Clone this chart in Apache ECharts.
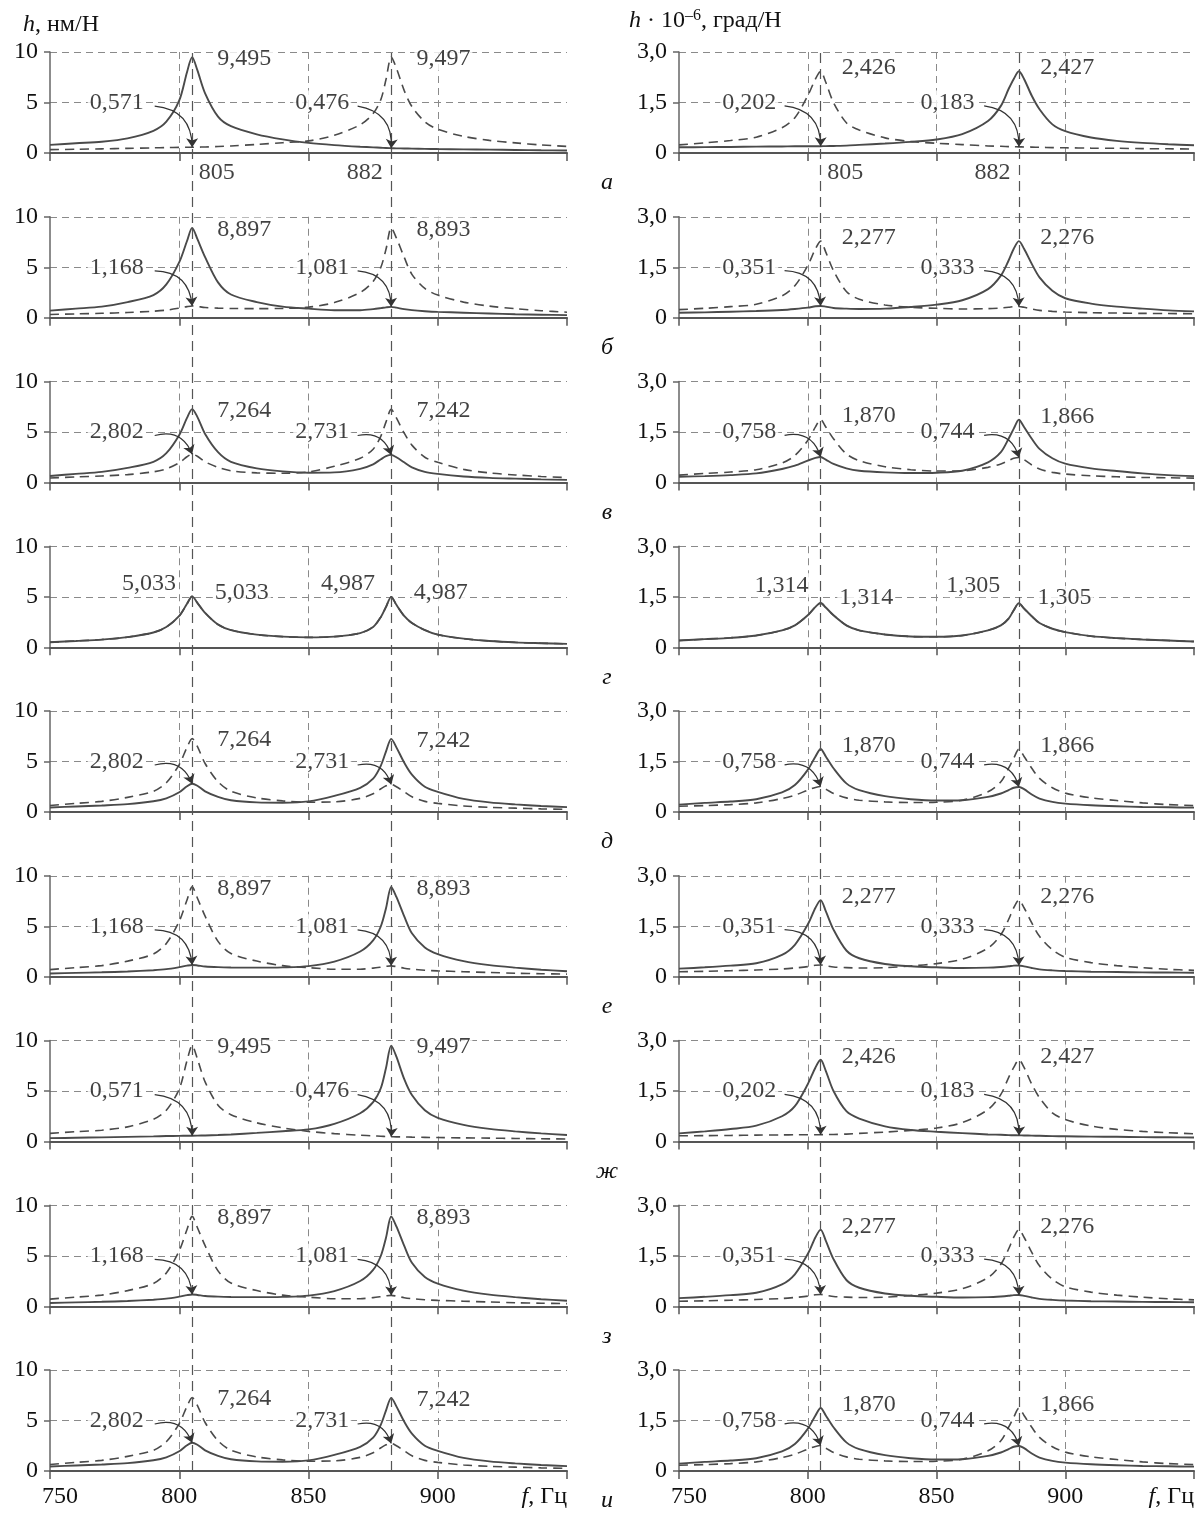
<!DOCTYPE html>
<html>
<head>
<meta charset="utf-8">
<script src="https://cdn.jsdelivr.net/npm/echarts@6/dist/echarts.min.js"></script>
<style>
  html, body { margin: 0; padding: 0; background: #fff; }
  #chart { width: 1203px; height: 1521px; }
</style>
</head>
<body>
<div id="chart"></div>
<script>
// frequencies, Hz
const freqs = [750, 760, 770, 780, 790, 795, 800, 803, 805, 807, 810, 815, 820, 830, 840, 850,
  860, 870, 875, 878, 880, 882, 884, 887, 890, 895, 900, 910, 920, 930, 940, 950];
const modeFreqs = [805, 882];

// h, nm/N  (left column)
const curveA1 = [0.80, 0.97, 1.12, 1.45, 2.2, 3.1, 5.2, 8.0, 9.495, 8.2, 5.9, 3.6, 2.65, 1.85, 1.35, 1.0,
  0.78, 0.62, 0.56, 0.52, 0.49, 0.476, 0.46, 0.45, 0.43, 0.41, 0.39, 0.36, 0.33, 0.30, 0.27, 0.25];
const curveA2 = [0.33, 0.37, 0.41, 0.46, 0.51, 0.54, 0.56, 0.57, 0.571, 0.58, 0.60, 0.64, 0.70, 0.85, 1.02, 1.2,
  1.75, 2.8, 3.9, 5.3, 7.3, 9.497, 8.4, 6.2, 4.6, 3.1, 2.35, 1.65, 1.25, 1.0, 0.8, 0.65];
const curveB1 = [0.71, 0.9, 1.1, 1.55, 2.25, 3.3, 5.5, 7.6, 8.897, 7.8, 6.0, 3.5, 2.3, 1.55, 1.1, 0.9,
  0.75, 0.75, 0.85, 0.95, 1.03, 1.081, 1.0, 0.85, 0.75, 0.65, 0.58, 0.5, 0.42, 0.35, 0.3, 0.26];
const curveB2 = [0.32, 0.38, 0.44, 0.52, 0.65, 0.75, 0.95, 1.1, 1.168, 1.12, 1.02, 0.95, 0.92, 0.9, 0.93, 1.05,
  1.5, 2.5, 3.6, 5.0, 6.8, 8.893, 7.9, 6.0, 4.3, 2.9, 2.25, 1.55, 1.15, 0.9, 0.7, 0.55];
const curveC1 = [0.65, 0.85, 1.05, 1.45, 2.05, 2.9, 4.7, 6.4, 7.264, 6.5, 4.8, 3.0, 2.05, 1.4, 1.1, 0.97,
  1.0, 1.35, 1.8, 2.3, 2.6, 2.731, 2.5, 2.0, 1.5, 1.05, 0.85, 0.6, 0.46, 0.38, 0.31, 0.26];
const curveC2 = [0.45, 0.55, 0.65, 0.78, 1.06, 1.35, 1.95, 2.55, 2.802, 2.6, 2.05, 1.5, 1.16, 0.95, 0.92, 1.05,
  1.6, 2.4, 3.3, 4.6, 6.0, 7.242, 6.4, 4.9, 3.7, 2.5, 2.0, 1.3, 0.95, 0.75, 0.6, 0.48];
const curveD = [0.49, 0.62, 0.76, 1.0, 1.46, 2.0, 3.1, 4.3, 5.033, 4.4, 3.4, 2.25, 1.7, 1.25, 1.05, 0.98,
  1.05, 1.4, 2.0, 3.0, 4.0, 4.987, 4.2, 3.1, 2.4, 1.7, 1.25, 0.85, 0.62, 0.48, 0.4, 0.33];

// h*10^-6, deg/N  (right column)
const curveRA1 = [0.24, 0.3, 0.37, 0.47, 0.75, 1.05, 1.7, 2.2, 2.426, 2.1, 1.5, 0.9, 0.68, 0.45, 0.34, 0.29,
  0.25, 0.21, 0.2, 0.19, 0.185, 0.183, 0.18, 0.175, 0.17, 0.16, 0.155, 0.145, 0.14, 0.13, 0.125, 0.12];
const curveRA2 = [0.17, 0.175, 0.18, 0.19, 0.195, 0.2, 0.2, 0.2, 0.202, 0.205, 0.21, 0.22, 0.24, 0.28, 0.33, 0.4,
  0.56, 0.95, 1.4, 1.9, 2.2, 2.427, 2.2, 1.7, 1.3, 0.85, 0.65, 0.46, 0.36, 0.3, 0.26, 0.23];
const curveRB1 = [0.24, 0.28, 0.33, 0.4, 0.65, 0.95, 1.55, 2.05, 2.277, 1.95, 1.4, 0.78, 0.55, 0.38, 0.31, 0.28,
  0.26, 0.27, 0.29, 0.31, 0.33, 0.333, 0.31, 0.26, 0.22, 0.19, 0.17, 0.15, 0.14, 0.13, 0.125, 0.12];
const curveRB2 = [0.15, 0.16, 0.18, 0.2, 0.23, 0.26, 0.3, 0.34, 0.351, 0.33, 0.29, 0.27, 0.26, 0.27, 0.32, 0.39,
  0.52, 0.85, 1.25, 1.7, 2.05, 2.276, 2.05, 1.6, 1.2, 0.8, 0.58, 0.42, 0.33, 0.27, 0.22, 0.19];
const curveRC1 = [0.22, 0.27, 0.31, 0.38, 0.58, 0.8, 1.25, 1.65, 1.87, 1.65, 1.3, 0.85, 0.65, 0.47, 0.38, 0.34,
  0.35, 0.45, 0.55, 0.65, 0.72, 0.744, 0.68, 0.52, 0.4, 0.3, 0.25, 0.2, 0.17, 0.15, 0.14, 0.13];
const curveRC2 = [0.17, 0.19, 0.22, 0.27, 0.4, 0.5, 0.65, 0.73, 0.758, 0.68, 0.55, 0.42, 0.35, 0.3, 0.28, 0.29,
  0.35, 0.6, 0.9, 1.3, 1.6, 1.866, 1.65, 1.3, 1.0, 0.72, 0.56, 0.42, 0.34, 0.27, 0.22, 0.19];
const curveRD = [0.2, 0.24, 0.28, 0.35, 0.5, 0.65, 0.95, 1.2, 1.314, 1.18, 0.95, 0.65, 0.5, 0.38, 0.32, 0.31,
  0.35, 0.5, 0.65, 0.85, 1.1, 1.305, 1.15, 0.92, 0.72, 0.55, 0.45, 0.33, 0.27, 0.23, 0.2, 0.17];

const rowLetters = ['а', 'б', 'в', 'г', 'д', 'е', 'ж', 'з', 'и'];
const leftSolid = [curveA1, curveB1, curveC1, curveD, curveC2, curveB2, curveA2, curveB2, curveC2];
const leftDashed = [curveA2, curveB2, curveC2, curveD, curveC1, curveB1, curveA1, curveB1, curveC1];
const rightSolid = [curveRA2, curveRB2, curveRC2, curveRD, curveRC1, curveRB1, curveRA1, curveRB1, curveRC1];
const rightDashed = [curveRA1, curveRB1, curveRC1, curveRD, curveRC2, curveRB2, curveRA2, curveRB2, curveRC2];

// annotated values
const leftPeak805 = [9.495, 8.897, 7.264, 5.033, 7.264, 8.897, 9.495, 8.897, 7.264];
const leftPeak882 = [9.497, 8.893, 7.242, 4.987, 7.242, 8.893, 9.497, 8.893, 7.242];
const leftLow805 = [0.571, 1.168, 2.802, 5.033, 2.802, 1.168, 0.571, 1.168, 2.802];
const leftLow882 = [0.476, 1.081, 2.731, 4.987, 2.731, 1.081, 0.476, 1.081, 2.731];
const rightPeak805 = [2.426, 2.277, 1.870, 1.314, 1.870, 2.277, 2.426, 2.277, 1.870];
const rightPeak882 = [2.427, 2.276, 1.866, 1.305, 1.866, 2.276, 2.427, 2.276, 1.866];
const rightLow805 = [0.202, 0.351, 0.758, 1.314, 0.758, 0.351, 0.202, 0.351, 0.758];
const rightLow882 = [0.183, 0.333, 0.744, 1.305, 0.744, 0.333, 0.183, 0.333, 0.744];

const FONT = 'Liberation Serif';
const INK = '#111';
const CURVE = '#4a4a4a';
const ROW_TOP = 52, ROW_STEP = 164.75, ROW_H = 101;
const cols = [
  { left: 50, width: 517, max: 10, interval: 5, solid: leftSolid, dashed: leftDashed,
    peak: [leftPeak805, leftPeak882], low: [leftLow805, leftLow882],
    lowTextX: [788, 867.5], arrowX: [790.5, 869], peakTextX: [813, 890], peakDy: -0.15, arrowDy: -0.35 },
  { left: 679, width: 515, max: 3, interval: 1.5, solid: rightSolid, dashed: rightDashed,
    peak: [rightPeak805, rightPeak882], low: [rightLow805, rightLow882],
    lowTextX: [789.5, 866.5], arrowX: [791, 868.5], peakTextX: [811.5, 888.5], peakDy: 0.1, arrowDy: -0.1 }
];

const fmt3 = v => v.toFixed(3).replace('.', ',');
const pairs = ys => freqs.map((f, i) => [f, ys[i]]);
const textStyle = { fontFamily: FONT, fontSize: 24, color: INK };

const grids = [], xAxes = [], yAxes = [], series = [];

for (let r = 0; r < 9; r++) {
  cols.forEach((col, c) => {
    const gi = grids.length;
    const last = r === 8;
    const mid = col.max / 2;
    grids.push({ left: col.left, width: col.width, top: ROW_TOP + ROW_STEP * r, height: ROW_H });
    xAxes.push({
      type: 'value', gridIndex: gi, min: 750, max: 950, interval: 50,
      axisLine: { show: true, onZero: false, lineStyle: { color: '#555', width: 2 } },
      axisTick: { show: true, length: 8, lineStyle: { color: '#555', width: 1.5 } },
      axisLabel: {
        show: last, margin: 14, ...textStyle,
        alignMaxLabel: 'right',
        formatter: v => v === 950 ? '{i|f}, Гц' : (v === 750 ? '{s|750}' : String(v)),
        rich: {
          i: { ...textStyle, fontStyle: 'italic' },
          s: { ...textStyle, padding: [0, 0, 0, 20] }
        }
      },
      splitLine: { show: true, showMinLine: false, showMaxLine: false,
        lineStyle: { type: [7, 5], color: '#8a8a8a', width: 1 } }
    });
    yAxes.push({
      type: 'value', gridIndex: gi, min: 0, max: col.max, interval: col.interval,
      axisLine: { show: true, lineStyle: { color: '#666', width: 1.5 } },
      axisTick: { show: true, length: 6, lineStyle: { color: '#666', width: 1.5 } },
      axisLabel: { ...textStyle, margin: 12,
        formatter: v => v === 0 ? '0' : (c === 0 ? String(v) : v.toFixed(1).replace('.', ',')) },
      splitLine: { show: true, showMinLine: false, showMaxLine: true,
        lineStyle: { type: [7, 5], color: '#8a8a8a', width: 1 } }
    });

    const base = { type: 'line', xAxisIndex: gi, yAxisIndex: gi, showSymbol: false, smooth: 0.3,
      silent: true, animation: false };
    series.push({ ...base, data: pairs(col.dashed[r]), z: 3,
      lineStyle: { color: CURVE, width: 1.6, type: [9, 6] } });
    series.push({ ...base, data: pairs(col.solid[r]), z: 4,
      lineStyle: { color: CURVE, width: 1.9 } });

    // text annotations
    const labels = [];
    const arrows = [];
    if (r === 3) {
      [0, 1].forEach(k => {
        const p = col.peak[k][r];
        const hi = c === 0 ? 6.3 : 1.84;
        const lo = c === 0 ? 5.4 : 1.46;
        labels.push({ value: [col.lowTextX[k] + (k === 0 ? 12.5 : 10), hi], name: fmt3(p),
          label: { position: 'left' } });
        labels.push({ value: [col.peakTextX[k] - 1, lo], name: fmt3(p), label: { position: 'right' } });
      });
    } else {
      [0, 1].forEach(k => {
        const low = col.low[k][r];
        const p = col.peak[k][r];
        labels.push({ value: [col.lowTextX[k], mid], name: fmt3(low), label: { position: 'left' } });
        labels.push({ value: [col.peakTextX[k], p + col.peakDy], name: fmt3(p),
          label: { position: 'right' } });
        arrows.push({ coords: [[col.arrowX[k], mid + col.arrowDy], [modeFreqs[k], low]] });
      });
    }
    if (r === 0) {
      labels.push({ value: [modeFreqs[0], 0], name: String(modeFreqs[0]),
        label: { position: [5, 8], align: 'left', verticalAlign: 'top', backgroundColor: 'transparent' } });
      labels.push({ value: [modeFreqs[1], 0], name: String(modeFreqs[1]),
        label: { position: [-6, 8], align: 'right', verticalAlign: 'top', backgroundColor: 'transparent' } });
    }
    series.push({
      type: 'scatter', xAxisIndex: gi, yAxisIndex: gi, symbolSize: 1, silent: true, animation: false,
      itemStyle: { color: 'rgba(0,0,0,0)' }, z: 6,
      label: { show: true, formatter: '{b}', ...textStyle, distance: 2,
        backgroundColor: '#fff', padding: [0, 2] },
      labelLayout: { hideOverlap: false },
      data: labels
    });
    if (arrows.length) {
      series.push({
        type: 'lines', coordinateSystem: 'cartesian2d', xAxisIndex: gi, yAxisIndex: gi,
        silent: true, animation: false, z: 7,
        symbol: ['none', 'arrow'], symbolSize: [0, 9],
        lineStyle: { color: '#333', width: 1.2, opacity: 1, curveness: 0.45 },
        data: arrows
      });
    }
  });
}

// long dashed verticals at the two natural frequencies through all rows
cols.forEach(col => {
  const gi = grids.length;
  grids.push({ left: col.left, width: col.width, top: ROW_TOP, height: ROW_STEP * 8 + ROW_H });
  xAxes.push({ type: 'value', gridIndex: gi, min: 750, max: 950, show: false });
  yAxes.push({ type: 'value', gridIndex: gi, min: 0, max: 1, show: false });
  series.push({
    type: 'line', xAxisIndex: gi, yAxisIndex: gi, data: [[750, 0]], showSymbol: false,
    lineStyle: { opacity: 0 }, silent: true, animation: false, z: 1,
    markLine: {
      silent: true, animation: false, symbol: 'none', label: { show: false },
      lineStyle: { type: [10, 6], color: '#555', width: 1.2 },
      data: modeFreqs.map(f => ({ xAxis: f }))
    }
  });
});

const graphics = [
  { type: 'text', left: 23, top: 13, style: {
      text: '{i|h}, нм/Н', fill: INK, font: '24px "' + FONT + '"',
      rich: { i: { fontStyle: 'italic', fontFamily: FONT, fontSize: 24, fill: INK } } } },
  { type: 'text', left: 629, top: 8, style: {
      text: '{i|h} · 10{s|–6}, град/Н', fill: INK, font: '24px "' + FONT + '"',
      rich: {
        i: { fontStyle: 'italic', fontFamily: FONT, fontSize: 24, fill: INK },
        s: { fontFamily: FONT, fontSize: 16, fill: INK, verticalAlign: 'top', padding: [0, 0, 10, 0] }
      } } }
];
rowLetters.forEach((ch, r) => {
  graphics.push({ type: 'text', x: 607, y: ROW_TOP + ROW_STEP * r + ROW_H + 30, style: {
    text: ch, fill: INK, font: 'italic 24px "' + FONT + '"', align: 'center', verticalAlign: 'middle' } });
});

const chart = echarts.init(document.getElementById('chart'));
chart.setOption({
  backgroundColor: '#fff',
  animation: false,
  grid: grids,
  xAxis: xAxes,
  yAxis: yAxes,
  series: series,
  graphic: graphics
});
</script>
</body>
</html>
